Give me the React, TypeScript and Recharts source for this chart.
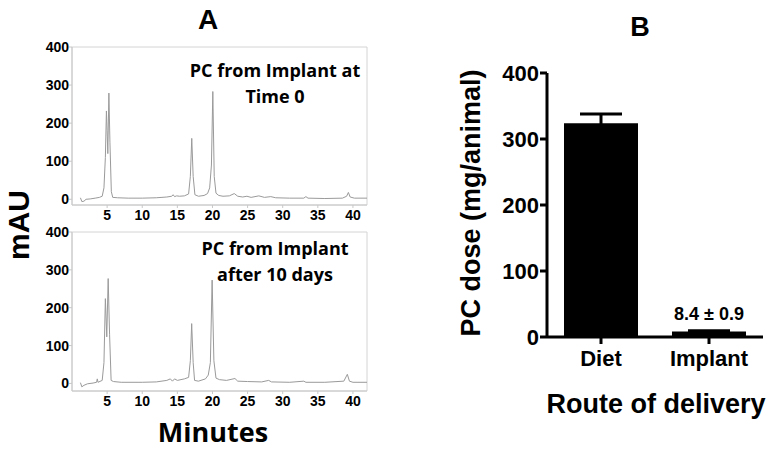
import React from "react";
import {
  LineChart,
  Line,
  BarChart,
  Bar,
  XAxis,
  YAxis,
  ErrorBar,
  LabelList,
  ReferenceArea
} from "recharts";

// chromatogram, implant at time 0 (minutes / mAU)
const TOP_TIME = [
  1.2, 1.4, 1.7, 2.0, 2.6, 3.3, 3.9, 4.3, 4.55, 4.75, 4.9, 5.0, 5.1, 5.25, 5.4,
  5.6, 5.8, 6.5, 8, 10, 12, 13.5, 14.2, 14.4, 14.6, 14.9, 15.3, 16.0, 16.6,
  16.85, 17.05, 17.25, 17.5, 18, 18.8, 19.3, 19.6, 19.85, 20.05, 20.25, 20.5,
  20.9, 21.5, 22.4, 23.1, 23.6, 24.3, 24.9, 25.5, 26.6, 27.4, 28.3, 29.0, 31,
  33.0, 33.3, 33.6, 36, 38.5, 39.1, 39.35, 39.6, 40.2, 42
];
const TOP_MAU = [
  4, -6, -5, 0, 1, 3, 5, 8, 30, 110, 232, 180, 120, 279, 150,
  20, 5, 4, 3, 3, 4, 6, 8, 12, 7, 9, 8, 9, 14,
  60, 160, 60, 12, 8, 10, 15, 30, 90, 283, 60, 16,
  10, 8, 9, 15, 8, 6, 8, 5, 9, 5, 7, 4, 3,
  3, 7, 3, 2, 3, 8, 18, 6, 3, 3
];

// chromatogram, implant after 10 days
const BOTTOM_TIME = [
  1.2, 1.4, 1.7, 2.2, 3.0, 3.5, 3.6, 3.7, 4.3, 4.55, 4.75, 4.95, 5.15, 5.35,
  5.57, 5.9, 7, 10, 12, 13.5, 14.0, 14.3, 14.6, 15.0, 16.0, 16.6, 16.85, 17.04,
  17.25, 17.45, 18, 19, 19.4, 19.7, 19.95, 20.2, 20.5, 21.0, 22.0, 23.2, 23.6,
  25, 27, 28.0, 28.4, 31, 33.0, 33.3, 36, 38.7, 39.2, 39.5, 40, 42
];
const BOTTOM_MAU = [
  2, -9, -5, -1, 1, 3, 12, 3, 8, 55, 224, 123, 277, 130,
  8, 5, 3, 3, 4, 8, 12, 6, 12, 8, 12, 16, 60, 158,
  55, 8, 6, 12, 22, 55, 273, 60, 14, 10, 8, 13, 6,
  5, 4, 8, 4, 3, 6, 3, 3, 6, 24, 6, 3, 3
];

const MAU_TICKS = [0, 100, 200, 300, 400];
const MIN_TICKS = [5, 10, 15, 20, 25, 30, 35, 40];

// panel B
const ROUTES = ["Diet", "Implant"];
const DOSE = [324, 8.4];
const DOSE_SEM = [14, 0.9];
const DOSE_LABELS = ["", "8.4 \u00b1 0.9"];
const DOSE_TICKS = [0, 100, 200, 300, 400];

const ARIAL = "'Liberation Sans', Arial, sans-serif";
const CALIBRI = "'Open Sans', sans-serif";

const topData = TOP_TIME.map((t, i) => ({ t, v: TOP_MAU[i] }));
const bottomData = BOTTOM_TIME.map((t, i) => ({ t, v: BOTTOM_MAU[i] }));
const doseData = ROUTES.map((name, i) => ({
  name,
  dose: DOSE[i],
  sem: DOSE_SEM[i],
  label: DOSE_LABELS[i]
}));

const smallTick = { fontSize: 14, fontWeight: 700, fill: "#000", fontFamily: ARIAL };

const Chromatogram: React.FC<{ data: { t: number; v: number }[]; yMin: number; height: number }> = ({
  data,
  yMin,
  height
}) => (
  <LineChart width={380} height={height} data={data} margin={{ top: 47, right: 13, left: 0, bottom: 0 }}>
    <ReferenceArea x1={0} x2={42} y1={yMin} y2={400} fill="none" stroke="#d4d4d4" strokeWidth={1} />
    <XAxis
      type="number"
      dataKey="t"
      domain={[0, 42]}
      ticks={MIN_TICKS}
      height={25}
      tick={smallTick}
      tickSize={3}
      tickMargin={2}
      stroke="#c8c8c8"
    />
    <YAxis
      type="number"
      domain={[yMin, 400]}
      ticks={MAU_TICKS}
      width={72}
      tick={smallTick}
      tickSize={3}
      tickMargin={0}
      stroke="#c8c8c8"
      allowDataOverflow
    />
    <Line
      type="linear"
      dataKey="v"
      stroke="#9a9a9a"
      strokeWidth={1}
      dot={false}
      isAnimationActive={false}
    />
  </LineChart>
);

const App: React.FC = () => {
  return (
    <div style={{ position: "absolute", left: 0, top: 0, width: 772, height: 451, background: "#fff" }}>
      {/* A: chromatograms */}
      <div style={{ position: "absolute", left: 0, top: 0 }}>
        <Chromatogram data={topData} yMin={-15} height={230} />
      </div>
      <div style={{ position: "absolute", left: 0, top: 185 }}>
        <Chromatogram data={bottomData} yMin={-20} height={231} />
      </div>

      {/* B: dose bar chart */}
      <div style={{ position: "absolute", left: 460, top: 60 }}>
        <BarChart width={312} height={320} data={doseData} margin={{ top: 13, right: 9, left: 0, bottom: 0 }}>
          <XAxis
            dataKey="name"
            height={43}
            tick={{ fontSize: 22, fontWeight: 700, fill: "#000", fontFamily: ARIAL }}
            tickSize={7}
            tickMargin={6}
            axisLine={{ stroke: "#000", strokeWidth: 3 }}
            tickLine={{ stroke: "#000", strokeWidth: 3 }}
          />
          <YAxis
            type="number"
            domain={[0, 400]}
            ticks={DOSE_TICKS}
            width={87}
            tick={{ fontSize: 22, fontWeight: 700, fill: "#000", fontFamily: ARIAL }}
            tickSize={7}
            tickMargin={1}
            axisLine={{ stroke: "#000", strokeWidth: 3 }}
            tickLine={{ stroke: "#000", strokeWidth: 3 }}
          />
          <Bar dataKey="dose" fill="#000" barSize={74} isAnimationActive={false}>
            <ErrorBar dataKey="sem" width={21} strokeWidth={3} stroke="#000" direction="y" />
            <LabelList
              dataKey="label"
              position="top"
              offset={11}
              style={{ fontSize: 18, fontWeight: 700, fill: "#000", fontFamily: ARIAL }}
            />
          </Bar>
        </BarChart>
      </div>

      {/* titles and annotations */}
      <svg width={772} height={451} style={{ position: "absolute", left: 0, top: 0, pointerEvents: "none" }}>
        <text x={208} y={29} textAnchor="middle" fontFamily={ARIAL} fontWeight={700} fontSize={28}>A</text>
        <text x={640} y={36} textAnchor="middle" fontFamily={ARIAL} fontWeight={700} fontSize={27}>B</text>
        <text
          transform="translate(29,225) rotate(-90)"
          textAnchor="middle"
          fontFamily={ARIAL}
          fontWeight={700}
          fontSize={30}
        >
          mAU
        </text>
        <text x={213} y={442} textAnchor="middle" fontFamily={CALIBRI} fontWeight={700} fontSize={27}>Minutes</text>
        <g fontFamily={CALIBRI} fontWeight={700} fontSize={18} textAnchor="middle">
          <text x={275} y={77}>PC from Implant at</text>
          <text x={275} y={103}>Time 0</text>
          <text x={275} y={255}>PC from Implant</text>
          <text x={275} y={281}>after 10 days</text>
        </g>
        <text
          transform="translate(480,203) rotate(-90)"
          textAnchor="middle"
          fontFamily={ARIAL}
          fontWeight={700}
          fontSize={27}
        >
          PC dose (mg/animal)
        </text>
        <text x={656} y={413} textAnchor="middle" fontFamily={ARIAL} fontWeight={700} fontSize={27}>
          Route of delivery
        </text>
      </svg>
    </div>
  );
};

export default App;
